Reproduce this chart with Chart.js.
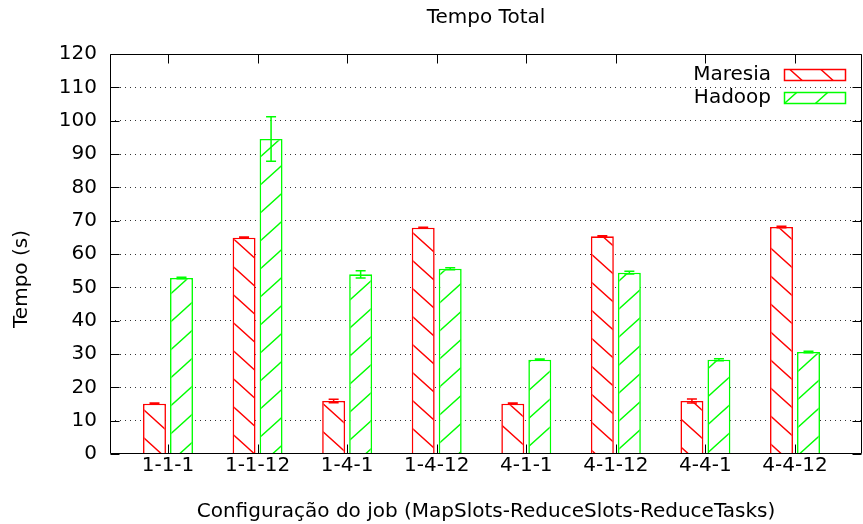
<!DOCTYPE html>
<html><head><meta charset="utf-8">
<script src="https://cdn.jsdelivr.net/npm/chart.js@4/dist/chart.umd.min.js"></script>
<style>html,body{margin:0;padding:0;background:#fff}#wrap{width:863px;height:524px}</style>
</head><body><div id="wrap"><canvas id="c" width="863" height="524"></canvas></div>
<script>
const categories = ['1-1-1','1-1-12','1-4-1','1-4-12','4-1-1','4-1-12','4-4-1','4-4-12'];
const seriesNames = ['Maresia','Hadoop'];
const maresia    = [15.1, 64.9, 15.9, 67.9, 15.1, 65.3, 15.9, 68.1];
const maresiaErr = [0.2, 0.2, 0.5, 0.1, 0.2, 0.2, 0.6, 0.2];
const hadoop     = [52.8, 94.5, 53.9, 55.6, 28.3, 54.4, 28.3, 30.6];
const hadoopErr  = [0.2, 6.7, 1.1, 0.3, 0.2, 0.4, 0.3, 0.2];
const yTicks = [0,10,20,30,40,50,60,70,80,90,100,110,120];
const titleText = 'Tempo Total';
const xTitle = 'Configuração do job (MapSlots-ReduceSlots-ReduceTasks)';
const yTitle = 'Tempo (s)';

const FONT = "'DejaVu Sans', sans-serif";
const FS = 20;
const RED = '#ff0000', GREEN = '#00ff00';
const canvas = document.getElementById('c');
const mctx = canvas.getContext('2d');

function makePattern(color, dir) {
  const w = 31, h = 28;
  const c = document.createElement('canvas'); c.width = w; c.height = h;
  const x = c.getContext('2d');
  x.fillStyle = '#fff'; x.fillRect(0, 0, w, h);
  x.strokeStyle = color; x.lineWidth = 1.4;
  x.beginPath();
  for (const dx of [-w, 0, w]) for (const dy of [-h, 0, h]) {
    if (dir === 'back') { x.moveTo(dx, dy); x.lineTo(dx + w, dy + h); }
    else { x.moveTo(dx, dy + h); x.lineTo(dx + w, dy); }
  }
  x.stroke();
  return mctx.createPattern(c, 'repeat');
}
const patRed = makePattern(RED, 'back');
const patGreen = makePattern(GREEN, 'fwd');

const errs = [maresiaErr, hadoopErr];
const colors = [RED, GREEN];
const pats = [patRed, patGreen];

const deco = {
  id: 'deco',
  afterDatasetsDraw(chart) {
    const ctx = chart.ctx, ys = chart.scales.y, xs = chart.scales.x, a = chart.chartArea;
    chart.data.datasets.forEach((ds, d) => {
      const meta = chart.getDatasetMeta(d);
      ctx.save(); ctx.strokeStyle = colors[d]; ctx.lineWidth = 1.5;
      meta.data.forEach((el, i) => {
        const v = ds.data[i].y, e = errs[d][i];
        const y1 = ys.getPixelForValue(v + e), y2 = ys.getPixelForValue(v - e);
        const x = el.x;
        ctx.beginPath();
        ctx.moveTo(x, y1); ctx.lineTo(x, y2);
        ctx.moveTo(x - 5, y1); ctx.lineTo(x + 5, y1);
        ctx.moveTo(x - 5, y2); ctx.lineTo(x + 5, y2);
        ctx.stroke();
      });
      ctx.restore();
    });
    const L = Math.round(a.left) + 0.5, R = Math.round(a.right) - 0.5, T = Math.round(a.top) + 0.5, B = Math.round(a.bottom) - 0.5;
    ctx.save(); ctx.strokeStyle = '#000'; ctx.lineWidth = 1;
    ctx.beginPath(); ctx.rect(L, T, R - L, B - T);
    yTicks.forEach(v => {
      const y = Math.round(ys.getPixelForValue(v)) + 0.5;
      ctx.moveTo(L, y); ctx.lineTo(L + 9, y);
      ctx.moveTo(R, y); ctx.lineTo(R - 9, y);
    });
    categories.forEach((c, i) => {
      const x = Math.round(xs.getPixelForValue(i)) + 0.5;
      ctx.moveTo(x, B); ctx.lineTo(x, B - 9);
      ctx.moveTo(x, T); ctx.lineTo(x, T + 9);
    });
    ctx.stroke(); ctx.restore();
    ctx.save();
    ctx.font = FS + 'px ' + FONT;
    ctx.textAlign = 'right'; ctx.textBaseline = 'middle';
    seriesNames.forEach((n, d) => {
      const yc = 75 + d * 23;
      ctx.fillStyle = '#000';
      ctx.fillText(n, 771, yc);
      ctx.fillStyle = pats[d];
      ctx.fillRect(784, yc - 6, 62, 12);
      ctx.strokeStyle = colors[d]; ctx.lineWidth = 1.5;
      ctx.strokeRect(784.5, yc - 5.5, 61, 11);
    });
    ctx.restore();
    ctx.save();
    ctx.font = FS + 'px ' + FONT; ctx.fillStyle = '#000';
    ctx.translate(22, 279); ctx.rotate(-Math.PI / 2);
    ctx.textAlign = 'center'; ctx.textBaseline = 'middle';
    ctx.fillText(yTitle, 0, 0);
    ctx.restore();
  }
};

new Chart(canvas, {
  type: 'bar',
  data: {
    datasets: [
      { label: seriesNames[0], data: maresia.map((v, i) => ({ x: i, y: v })), backgroundColor: patRed, borderColor: RED, borderWidth: 1.6 },
      { label: seriesNames[1], data: hadoop.map((v, i) => ({ x: i, y: v })), backgroundColor: patGreen, borderColor: GREEN, borderWidth: 1.6 }
    ]
  },
  options: {
    responsive: false, animation: false, devicePixelRatio: 1,
    categoryPercentage: 0.603, barPercentage: 0.85,
    layout: { padding: { left: 0, right: 1, top: 0, bottom: 0 } },
    scales: {
      x: {
        type: 'linear', min: -0.6475, max: 7.748, offset: false,
        grid: { display: false, drawTicks: false }, border: { display: false },
        afterBuildTicks: s => { s.ticks = categories.map((_, i) => ({ value: i })); },
        ticks: { font: { family: FONT, size: FS }, color: '#000', padding: 0, autoSkip: false, maxRotation: 0,
                 callback: v => categories[v] ?? '' },
        title: { display: true, text: xTitle, font: { family: FONT, size: FS }, color: '#000', padding: { top: 0, bottom: 0 } },
        afterFit: s => { s.height = 70; }
      },
      y: {
        min: 0, max: 120,
        afterBuildTicks: s => { s.ticks = yTicks.map(v => ({ value: v })); },
        ticks: { font: { family: FONT, size: FS }, color: '#000', padding: 13, autoSkip: false },
        grid: { drawTicks: false, lineWidth: 1,
                color: c => (c.tick && (c.tick.value === 0 || c.tick.value === 120)) ? 'rgba(0,0,0,0)' : 'rgba(0,0,0,0.8)' },
        border: { display: false, dash: [1, 4] },
        afterFit: s => { s.width = 110; }
      }
    },
    plugins: {
      legend: { display: false }, tooltip: { enabled: false },
      title: { display: true, text: titleText, fullSize: false, font: { family: FONT, size: FS, weight: 'normal' }, color: '#000',
               padding: { top: 6, bottom: 24 } }
    }
  },
  plugins: [deco]
});
</script></body></html>
